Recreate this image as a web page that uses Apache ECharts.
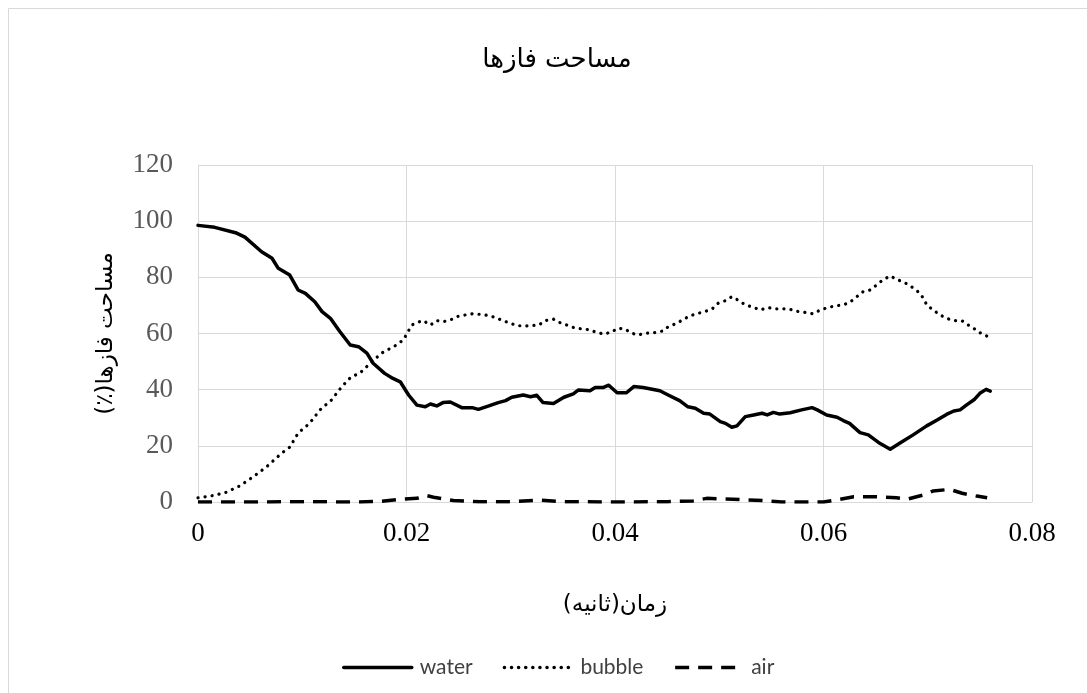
<!DOCTYPE html>
<html>
<head>
<meta charset="utf-8">
<script src="https://cdn.jsdelivr.net/npm/echarts@6/dist/echarts.min.js"></script>
<style>
  html, body { margin: 0; padding: 0; background: #ffffff; }
  #chart { width: 1087px; height: 693px; }
</style>
</head>
<body>
<div id="chart"></div>
<script>
// Phase area fractions (%) over time (s)
const waterT = [0, 0.0016, 0.0036, 0.0045, 0.0061, 0.0071, 0.0077, 0.0088, 0.0096, 0.0103,
  0.0112, 0.0119, 0.0127, 0.0136, 0.0146, 0.0154, 0.0162, 0.0168, 0.0179, 0.0187,
  0.0194, 0.0202, 0.0210, 0.0218, 0.0223, 0.0229, 0.0235, 0.0242, 0.0253, 0.0263,
  0.0269, 0.0279, 0.0288, 0.0295, 0.0301, 0.0312, 0.0319, 0.0325, 0.0331, 0.0341,
  0.0351, 0.0360, 0.0365, 0.0376, 0.0381, 0.0389, 0.0394, 0.0402, 0.0411, 0.0418,
  0.0427, 0.0443, 0.0451, 0.0462, 0.0470, 0.0477, 0.0485, 0.0491, 0.0501, 0.0506,
  0.0512, 0.0517, 0.0525, 0.0533, 0.0541, 0.0546, 0.0552, 0.0558, 0.0568, 0.0579,
  0.0589, 0.0594, 0.0603, 0.0613, 0.0619, 0.0625, 0.0635, 0.0643, 0.0654, 0.0664,
  0.0673, 0.0686, 0.0699, 0.0709, 0.0718, 0.0725, 0.0731, 0.0737, 0.0745, 0.0750,
  0.0756, 0.0760];
const waterV = [98.5, 97.8, 95.9, 94.3, 89.1, 86.8, 83.2, 80.8, 75.5, 74.3,
  71.3, 67.8, 65.4, 60.7, 55.9, 55.3, 53.0, 49.4, 45.8, 44.0,
  42.8, 38.1, 34.5, 33.9, 34.9, 34.2, 35.4, 35.6, 33.6, 33.6,
  33.0, 34.2, 35.4, 36.1, 37.3, 38.1, 37.5, 38.0, 35.4, 35.1,
  37.3, 38.5, 39.9, 39.6, 40.8, 40.8, 41.6, 38.9, 38.9, 41.1,
  40.8, 39.6, 38.1, 36.1, 33.9, 33.4, 31.6, 31.3, 28.6, 28.0,
  26.6, 27.1, 30.4, 31.0, 31.6, 31.0, 31.9, 31.3, 31.8, 32.8,
  33.6, 32.8, 31.0, 30.2, 29.0, 28.0, 24.7, 23.9, 20.9, 18.8,
  20.9, 23.9, 27.1, 29.2, 31.2, 32.4, 32.8, 34.5, 36.6, 38.7,
  40.1, 39.5];

const bubbleT = [0, 0.0012, 0.0026, 0.0040, 0.0053, 0.0066, 0.0080, 0.0088, 0.0096, 0.0107,
  0.0117, 0.0128, 0.0138, 0.0147, 0.0155, 0.0167, 0.0176, 0.0189, 0.0197, 0.0205,
  0.0210, 0.0216, 0.0223, 0.0229, 0.0235, 0.0242, 0.0250, 0.0263, 0.0272, 0.0280,
  0.0287, 0.0293, 0.0306, 0.0314, 0.0327, 0.0333, 0.0341, 0.0347, 0.0362, 0.0376,
  0.0382, 0.0390, 0.0397, 0.0403, 0.0410, 0.0416, 0.0422, 0.0430, 0.0438, 0.0446,
  0.0451, 0.0459, 0.0466, 0.0472, 0.0480, 0.0486, 0.0493, 0.0499, 0.0506, 0.0512,
  0.0518, 0.0525, 0.0533, 0.0539, 0.0547, 0.0554, 0.0562, 0.0568, 0.0576, 0.0584,
  0.0590, 0.0597, 0.0605, 0.0611, 0.0619, 0.0625, 0.0632, 0.0638, 0.0645, 0.0651,
  0.0657, 0.0664, 0.0670, 0.0678, 0.0685, 0.0691, 0.0696, 0.0699, 0.0705, 0.0712,
  0.0718, 0.0725, 0.0733, 0.0739, 0.0745, 0.0752, 0.0758];
const bubbleV = [1.5, 2.1, 3.3, 5.7, 9.0, 12.6, 17.3, 19.5, 24.5, 28.0,
  32.8, 36.3, 41.1, 44.6, 45.8, 50.0, 53.0, 55.6, 57.7, 63.0,
  63.9, 64.6, 63.0, 64.6, 64.2, 64.8, 66.2, 67.0, 66.8, 66.3,
  65.4, 64.5, 62.8, 62.7, 63.0, 64.6, 65.1, 63.9, 61.9, 61.3,
  60.4, 59.8, 60.6, 61.9, 61.5, 60.1, 59.5, 60.1, 60.3, 60.9,
  62.4, 63.6, 65.1, 66.3, 67.2, 67.8, 68.7, 70.8, 71.7, 73.1,
  71.9, 70.2, 69.3, 68.4, 69.2, 68.8, 68.8, 68.6, 67.8, 67.4,
  67.0, 68.4, 69.3, 69.8, 70.2, 71.0, 73.1, 74.9, 75.5, 77.3,
  79.1, 80.5, 79.3, 78.1, 76.5, 74.8, 72.5, 70.2, 68.4, 66.6,
  65.4, 64.6, 64.5, 63.0, 61.6, 59.8, 58.9];

const airT = [0, 0.005, 0.010, 0.015, 0.0175, 0.0195, 0.0210, 0.0219, 0.0226, 0.0245,
  0.027, 0.030, 0.0328, 0.035, 0.040, 0.045, 0.0475, 0.0488, 0.0513, 0.0542,
  0.056, 0.060, 0.0616, 0.0629, 0.0648, 0.0670, 0.0680, 0.0696, 0.0705, 0.0721,
  0.0733, 0.0747, 0.0757];
const airV = [0, 0, 0.1, 0, 0.2, 1.0, 1.3, 2.3, 1.7, 0.5,
  0.1, 0.1, 0.7, 0.1, 0, 0.1, 0.4, 1.3, 1.0, 0.5,
  0, 0, 1.0, 1.9, 1.9, 1.5, 1.0, 2.5, 3.9, 4.5,
  3.1, 2.1, 1.5];

const seriesNames = ['water', 'bubble', 'air'];
const RLM = '\u200F';
const titleText = 'مساحت فازها';
const xName = RLM + 'زمان(ثانیه)' + RLM;
const yName = RLM + 'مساحت فازها(٪)' + RLM;

const pairs = (t, v) => t.map((x, i) => [x, v[i]]);

const chart = echarts.init(document.getElementById('chart'), null, { renderer: 'canvas' });

const gridLine = { lineStyle: { color: '#d9d9d9', width: 1 } };

chart.setOption({
  animation: false,
  backgroundColor: '#ffffff',
  graphic: [{
    type: 'rect',
    shape: { x: 8.5, y: 8.5, width: 1100, height: 700 },
    style: { fill: 'none', stroke: '#d9d9d9', lineWidth: 1 },
    silent: true
  }],
  title: {
    text: titleText,
    left: 552, top: 42, textAlign: 'center',
    textStyle: { fontFamily: 'DejaVu Sans', fontSize: 26, fontWeight: 'normal', color: '#000000' }
  },
  grid: { left: 198, top: 165, right: 55, bottom: 191, containLabel: false },
  legend: {
    data: seriesNames,
    left: 337, top: 652,
    itemWidth: 68, itemHeight: 14, itemGap: 30,
    itemStyle: { opacity: 0 },
    lineStyle: { width: 3.5 },
    textStyle: { fontFamily: 'Lato', fontSize: 21, color: '#404040', padding: [0, 0, 0, 3] }
  },
  xAxis: {
    type: 'value', min: 0, max: 0.08, interval: 0.02,
    name: xName, nameLocation: 'middle', nameGap: 92,
    nameTextStyle: { fontFamily: 'DejaVu Sans', fontSize: 23, color: '#000000' },
    axisLine: { show: true, lineStyle: { color: '#d9d9d9' } },
    axisTick: { show: false },
    axisLabel: { margin: 18, fontFamily: 'Liberation Serif', fontSize: 27, color: '#000000' },
    splitLine: gridLine
  },
  yAxis: {
    type: 'value', min: 0, max: 120, interval: 20,
    name: yName, nameLocation: 'middle', nameGap: 80, nameRotate: 90,
    nameTextStyle: { fontFamily: 'DejaVu Sans', fontSize: 23, color: '#000000' },
    axisLine: { show: true, lineStyle: { color: '#d9d9d9' } },
    axisTick: { show: false },
    axisLabel: { margin: 25, fontFamily: 'Liberation Serif', fontSize: 27, color: '#595959' },
    splitLine: gridLine
  },
  series: [
    {
      name: 'water', type: 'line', showSymbol: false, symbol: 'none',
      data: pairs(waterT, waterV),
      lineStyle: { color: '#000000', width: 3.5, type: 'solid', join: 'round', cap: 'round' },
      itemStyle: { color: '#000000' }
    },
    {
      name: 'bubble', type: 'line', showSymbol: false, symbol: 'none',
      data: pairs(bubbleT, bubbleV),
      lineStyle: { color: '#000000', width: 3.2, type: [0.1, 7], cap: 'round', join: 'round' },
      itemStyle: { color: '#000000' }
    },
    {
      name: 'air', type: 'line', showSymbol: false, symbol: 'none',
      data: pairs(airT, airV),
      lineStyle: { color: '#000000', width: 3.5, type: [14, 9], cap: 'butt', join: 'round' },
      itemStyle: { color: '#000000' }
    }
  ]
});
</script>
</body>
</html>
